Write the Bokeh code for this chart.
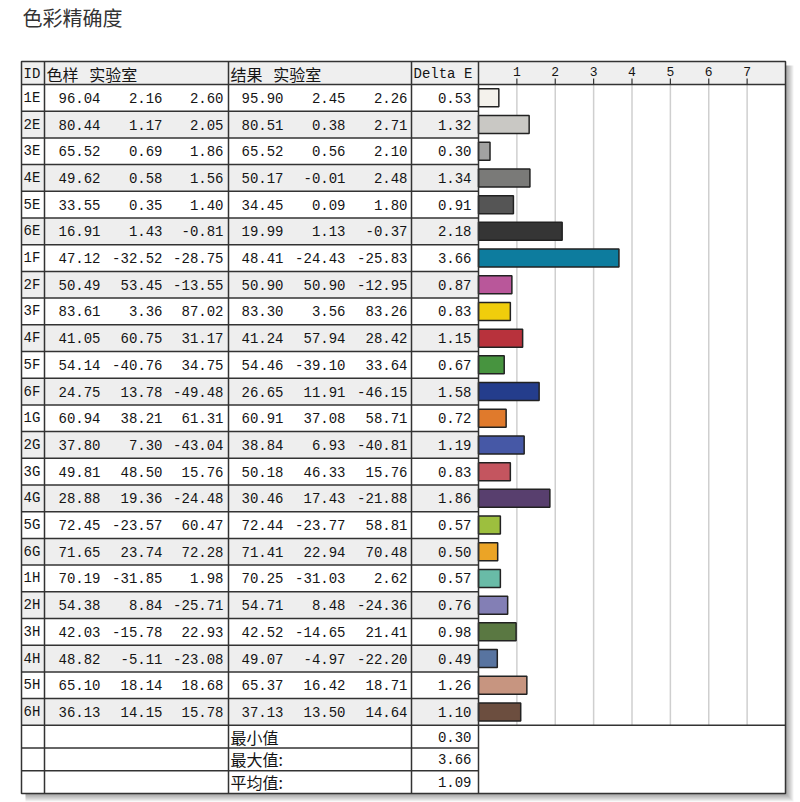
from bokeh.plotting import figure
from bokeh.models import Range1d
from bokeh.core.properties import value
from bokeh.embed import file_html
from bokeh.resources import INLINE

# patch ids and Lab values (reference / measured)
ids = ["1E", "2E", "3E", "4E", "5E", "6E", "1F", "2F", "3F", "4F", "5F", "6F",
       "1G", "2G", "3G", "4G", "5G", "6G", "1H", "2H", "3H", "4H", "5H", "6H"]
ref_L = [96.04, 80.44, 65.52, 49.62, 33.55, 16.91, 47.12, 50.49, 83.61, 41.05, 54.14, 24.75,
         60.94, 37.80, 49.81, 28.88, 72.45, 71.65, 70.19, 54.38, 42.03, 48.82, 65.10, 36.13]
ref_a = [2.16, 1.17, 0.69, 0.58, 0.35, 1.43, -32.52, 53.45, 3.36, 60.75, -40.76, 13.78,
         38.21, 7.30, 48.50, 19.36, -23.57, 23.74, -31.85, 8.84, -15.78, -5.11, 18.14, 14.15]
ref_b = [2.60, 2.05, 1.86, 1.56, 1.40, -0.81, -28.75, -13.55, 87.02, 31.17, 34.75, -49.48,
         61.31, -43.04, 15.76, -24.48, 60.47, 72.28, 1.98, -25.71, 22.93, -23.08, 18.68, 15.78]
res_L = [95.90, 80.51, 65.52, 50.17, 34.45, 19.99, 48.41, 50.90, 83.30, 41.24, 54.46, 26.65,
         60.91, 38.84, 50.18, 30.46, 72.44, 71.41, 70.25, 54.71, 42.52, 49.07, 65.37, 37.13]
res_a = [2.45, 0.38, 0.56, -0.01, 0.09, 1.13, -24.43, 50.90, 3.56, 57.94, -39.10, 11.91,
         37.08, 6.93, 46.33, 17.43, -23.77, 22.94, -31.03, 8.48, -14.65, -4.97, 16.42, 13.50]
res_b = [2.26, 2.71, 2.10, 2.48, 1.80, -0.37, -25.83, -12.95, 83.26, 28.42, 33.64, -46.15,
         58.71, -40.81, 15.76, -21.88, 58.81, 70.48, 2.62, -24.36, 21.41, -22.20, 18.71, 14.64]
delta_e = [0.53, 1.32, 0.30, 1.34, 0.91, 2.18, 3.66, 0.87, 0.83, 1.15, 0.67, 1.58,
           0.72, 1.19, 0.83, 1.86, 0.57, 0.50, 0.57, 0.76, 0.98, 0.49, 1.26, 1.10]
bar_colors = ["#f4f2ec", "#c9c8c4", "#a2a2a1", "#7a7a78", "#555555", "#353535",
              "#0d7c9e", "#b9579a", "#f0cd0c", "#b8323c", "#47943f", "#243d8c",
              "#e07a2c", "#4658a6", "#c4555f", "#583f6e", "#9dbf3e", "#eba426",
              "#69bba7", "#837fb5", "#5a7842", "#5874a0", "#c79580", "#6c4e3f"]
ticks = [1, 2, 3, 4, 5, 6, 7]
header_labels = ["色样\u00a0 \u00a0实验室", "结果\u00a0 \u00a0实验室"]
summary_labels = ["最小值", "最大值:", "平均值:"]
summary_values = [0.30, 3.66, 1.09]

# layout (page pixels)
LEFT, RIGHT, TOP = 21, 785, 61
HEAD_B = 84
ROW_H = 26.7
SUM_H = 22.7
COL_X = [44, 228, 411, 478]
BAR_X0 = 478
PX_PER_UNIT = (RIGHT - BAR_X0) / 8.0

n = len(ids)
rows_bottom = HEAD_B + n * ROW_H
bottom = rows_bottom + 3 * SUM_H
row_top = [HEAD_B + i * ROW_H for i in range(n)]
row_mid = [t + ROW_H / 2 for t in row_top]
sum_top = [rows_bottom + i * SUM_H for i in range(3)]
sum_mid = [t + SUM_H / 2 for t in sum_top]

p = figure(width=800, height=802, x_range=Range1d(0, 800), y_range=Range1d(802, 0),
           toolbar_location=None, output_backend="svg", min_border=0,
           x_axis_location=None, y_axis_location=None, outline_line_color=None)
p.xgrid.visible = False
p.ygrid.visible = False
p.extra_x_ranges = {"de": Range1d(-BAR_X0 / PX_PER_UNIT, (800 - BAR_X0) / PX_PER_UNIT)}

mono = value("Liberation Mono")
cjk = value("Noto Sans CJK SC")
ink = "#141414"

# title
p.text(x=[22], y=[17], text=["色彩精确度"], text_font=cjk, text_font_size="20px",
       text_color="#333333", text_baseline="middle")

# drop shadow
for k in range(1, 9):
    p.quad(left=LEFT + 4, right=RIGHT + k, top=TOP + 4, bottom=bottom + k,
           fill_color="#000000", fill_alpha=0.05, line_color=None)

# backgrounds
p.quad(left=LEFT, right=RIGHT, top=TOP, bottom=bottom, fill_color="white", line_color=None)
p.quad(left=LEFT, right=RIGHT, top=TOP, bottom=HEAD_B, fill_color="#efefef", line_color=None)
stripe = ["white" if i % 2 == 0 else "#eeeeee" for i in range(n)]
p.quad(left=LEFT, right=BAR_X0, top=row_top, bottom=[t + ROW_H for t in row_top],
       fill_color=stripe, line_color=None)

# grid and ticks of the Delta E scale
p.segment(x0=ticks, x1=ticks, y0=HEAD_B, y1=rows_bottom, x_range_name="de",
          line_color="#cfcfcf", line_width=1.5)
p.segment(x0=ticks, x1=ticks, y0=HEAD_B - 6, y1=HEAD_B, x_range_name="de",
          line_color="#333333", line_width=1.2)
p.text(x=ticks, y=[71] * len(ticks), text=[str(t) for t in ticks], x_range_name="de",
       text_font=mono, text_font_size="13px", text_color=ink,
       text_align="center", text_baseline="middle")

# bars
p.hbar(y=row_mid, left=0, right=delta_e, height=18, x_range_name="de",
       fill_color=bar_colors, line_color="#222222", line_width=1.5)

# cell borders
hl = [HEAD_B] + [t + ROW_H for t in row_top] + [t + SUM_H for t in sum_top[:-1]]
p.segment(x0=LEFT, x1=BAR_X0, y0=hl, y1=hl, line_color="#333333", line_width=1.5)
p.segment(x0=BAR_X0, x1=RIGHT, y0=[HEAD_B, rows_bottom], y1=[HEAD_B, rows_bottom],
          line_color="#333333", line_width=1.5)
p.segment(x0=COL_X, x1=COL_X, y0=TOP, y1=bottom, line_color="#333333", line_width=1.5)
p.quad(left=LEFT, right=RIGHT, top=TOP, bottom=bottom, fill_color=None,
       line_color="#333333", line_width=1.5)

# header texts
p.text(x=[23], y=[73], text=["ID"], text_font=mono, text_font_size="14px",
       text_color=ink, text_baseline="middle")
p.text(x=[46, 230], y=[73, 73], text=header_labels, text_font=cjk,
       text_font_size="16px", text_color=ink, text_baseline="middle")
p.text(x=[413], y=[73], text=["Delta E"], text_font=mono, text_font_size="14px",
       text_color=ink, text_baseline="middle")

# row texts
p.text(x=[23] * n, y=row_mid, text=ids, text_font=mono, text_font_size="14px",
       text_color=ink, text_baseline="middle")
columns = [(ref_L, 100), (ref_a, 162), (ref_b, 223),
           (res_L, 283), (res_a, 345), (res_b, 407), (delta_e, 471)]
for vals, xr in columns:
    p.text(x=[xr] * n, y=row_mid, text=["%.2f" % v for v in vals], text_font=mono,
           text_font_size="14px", text_color=ink, text_align="right",
           text_baseline="middle")

# summary
p.text(x=[230] * 3, y=sum_mid, text=summary_labels, text_font=cjk, text_font_size="16px",
       text_color=ink, text_baseline="middle")
p.text(x=[471] * 3, y=sum_mid, text=["%.2f" % v for v in summary_values], text_font=mono,
       text_font_size="14px", text_color=ink, text_align="right", text_baseline="middle")

open("out.html", "w").write(file_html(p, INLINE))
